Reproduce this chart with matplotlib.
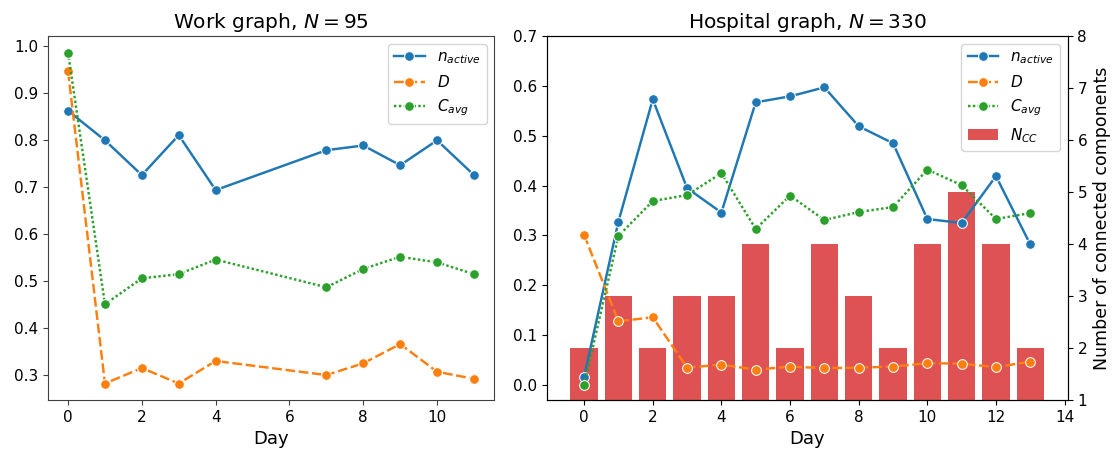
import matplotlib
matplotlib.use("Agg")
import matplotlib.pyplot as plt

# ── Work graph data ──────────────────────────────────────────────────────────
work_days = [0, 1, 2, 3, 4, 7, 8, 9, 10, 11]
work_n_active = [0.863, 0.800, 0.726, 0.811, 0.694, 0.779, 0.789, 0.747, 0.800, 0.726]
work_D = [0.947, 0.282, 0.315, 0.282, 0.330, 0.300, 0.325, 0.366, 0.307, 0.292]
work_C = [0.987, 0.451, 0.506, 0.515, 0.546, 0.487, 0.526, 0.552, 0.540, 0.515]

# ── Hospital graph data ──────────────────────────────────────────────────────
hosp_days = list(range(14))
hosp_n_active = [0.017, 0.328, 0.573, 0.395, 0.346, 0.567, 0.579, 0.597,
                 0.519, 0.485, 0.333, 0.325, 0.419, 0.282]
hosp_D = [0.301, 0.128, 0.136, 0.035, 0.041, 0.031, 0.037, 0.034,
          0.035, 0.037, 0.044, 0.043, 0.036, 0.047]
hosp_C = [0.000, 0.299, 0.369, 0.381, 0.425, 0.313, 0.380, 0.331,
          0.347, 0.357, 0.432, 0.401, 0.333, 0.345]
hosp_ncc = [2, 3, 2, 3, 3, 4, 2, 4, 3, 2, 4, 5, 4, 2]

C_BLUE = "#1f77b4"
C_ORANGE = "#ff7f0e"
C_GREEN = "#2ca02c"
C_RED = "#d62728"

plt.rcParams["xtick.labelsize"] = 11
plt.rcParams["ytick.labelsize"] = 11

mk = dict(marker="o", markersize=7, markeredgecolor="white", markeredgewidth=0.75, lw=1.75)


def three_lines(ax, x, n, d, c):
    h1, = ax.plot(x, n, color=C_BLUE, label=r"$n_{active}$", **mk)
    h2, = ax.plot(x, d, color=C_ORANGE, dashes=(4, 1.5), label=r"$D$", **mk)
    h3, = ax.plot(x, c, color=C_GREEN, dashes=(1, 1), label=r"$C_{avg}$", **mk)
    return [h1, h2, h3]


fig = plt.figure(figsize=(11.13, 4.5), dpi=100)

# ── Left: Work graph ─────────────────────────────────────────────────────────
ax1 = fig.add_axes([0.0429, 0.111, 0.4012, 0.809])
three_lines(ax1, work_days, work_n_active, work_D, work_C)
for s in ax1.spines.values():
    s.set_color("#404040")
ax1.tick_params(color="#404040")
ax1.set_title(r"Work graph, $N = 95$", fontsize=14.5)
ax1.set_xlabel("Day", fontsize=13)
ax1.legend(loc="upper right", fontsize=11)

# ── Right: Hospital graph ────────────────────────────────────────────────────
ax2 = fig.add_axes([0.4912, 0.111, 0.4681, 0.809])
ax2b = ax2.twinx()
bars = ax2b.bar(hosp_days, hosp_ncc, width=0.8, color=C_RED, alpha=0.8, label=r"$N_{CC}$")
ax2b.set_ylim(1, 8)
ax2b.set_ylabel("Number of connected components", fontsize=12.5)

handles = three_lines(ax2, hosp_days, hosp_n_active, hosp_D, hosp_C)
ax2.set_zorder(ax2b.get_zorder() + 1)
ax2.patch.set_visible(False)
ax2.set_ylim(-0.03, 0.7)
ax2.set_xticks(range(0, 15, 2))
ax2.set_title(r"Hospital graph, $N = 330$", fontsize=14.5)
ax2.set_xlabel("Day", fontsize=13)
ax2.legend(handles=handles + [bars], loc="upper right", fontsize=11)

fig.savefig("out.png", dpi=100, facecolor="white")
